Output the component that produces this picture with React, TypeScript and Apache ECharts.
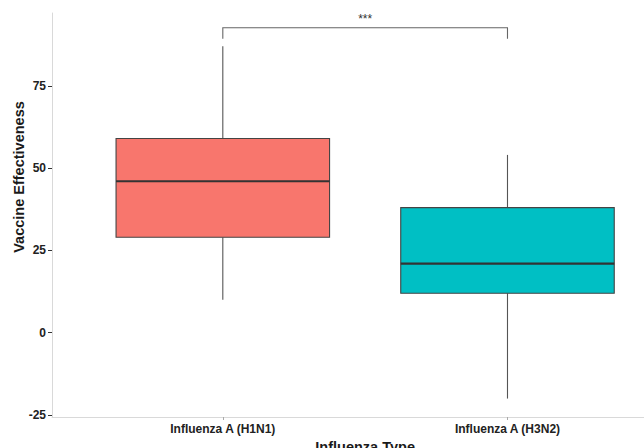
import React, { useEffect, useRef } from "react";
import * as echarts from "echarts";

// ---- data ----
const categories = ["Influenza A (H1N1)", "Influenza A (H3N2)"];
const mins = [10, -20];
const q1s = [29, 12];
const medians = [46, 21];
const q3s = [59, 38];
const maxs = [87, 54];

const yTicks = [-25, 0, 25, 50, 75];
const xTicks = [1, 2];

// significance bracket
const bracketFrom = 1;
const bracketTo = 2;
const bracketY = 92.6;
const bracketTipY = 89.3;
const bracketLabel = "***";
const bracketLabelY = 95.3;

// ---- styles ----
const boxColors = ["#F8766D", "#00BFC4"];
const BOX_WIDTH_UNITS = 0.75;
const FONT = "'Liberation Sans', Arial, Helvetica, sans-serif";

export default function App() {
  const ref = useRef<HTMLDivElement>(null);

  useEffect(() => {
    if (!ref.current) return;
    const chart = echarts.init(ref.current, null, { renderer: "svg" });

    const boxData = categories.map((_, i) => [
      i + 1,
      mins[i],
      q1s[i],
      medians[i],
      q3s[i],
      maxs[i],
    ]);

    const option: any = {
      animation: false,
      backgroundColor: "#ffffff",
      textStyle: { fontFamily: FONT },
      grid: {
        left: 52,
        right: -34.3,
        top: 13,
        bottom: 31,
        containLabel: false,
        outerBoundsMode: "none",
      },
      xAxis: {
        type: "value",
        min: 0.4,
        max: 2.6,
        name: "Influenza Type",
        nameLocation: "middle",
        nameGap: 17,
        nameTextStyle: { fontSize: 14.5, fontWeight: "bold", color: "#1a1a1a", fontFamily: FONT },
        axisLine: { show: true, onZero: false, lineStyle: { color: "#d9d9d9", width: 1 } },
        axisTick: { show: true, customValues: xTicks, length: 3, lineStyle: { color: "#aaaaaa" } },
        axisLabel: {
          customValues: xTicks,
          formatter: (v: number) => categories[Math.round(v) - 1] ?? "",
          fontSize: 12,
          fontWeight: "bold",
          color: "#222",
          margin: 6,
          fontFamily: FONT,
        },
        splitLine: { show: false },
      },
      yAxis: {
        type: "value",
        min: -25.6,
        max: 97.1,
        axisLine: { show: true, onZero: false, lineStyle: { color: "#d9d9d9", width: 1 } },
        axisTick: { show: true, customValues: yTicks, length: 4, lineStyle: { color: "#333" } },
        axisLabel: {
          customValues: yTicks,
          fontSize: 12,
          fontWeight: "bold",
          color: "#222",
          margin: 6,
          fontFamily: FONT,
        },
        splitLine: { show: false },
      },
      graphic: [
        {
          type: "text",
          x: 19,
          y: 177,
          rotation: Math.PI / 2,
          style: {
            text: "Vaccine Effectiveness",
            fontSize: 14.5,
            fontWeight: "bold",
            fill: "#1a1a1a",
            fontFamily: FONT,
            align: "center",
            verticalAlign: "middle",
          },
        },
      ],
      series: [
        {
          type: "custom",
          coordinateSystem: "cartesian2d",
          data: boxData,
          encode: { x: 0, y: [1, 2, 3, 4, 5] },
          renderItem: (params: any, api: any) => {
            const x = api.value(0);
            const lo = api.coord([x, api.value(1)]);
            const q1 = api.coord([x, api.value(2)]);
            const md = api.coord([x, api.value(3)]);
            const q3 = api.coord([x, api.value(4)]);
            const hi = api.coord([x, api.value(5)]);
            const half = api.size([BOX_WIDTH_UNITS / 2, 0])[0];
            const color = boxColors[params.dataIndex % boxColors.length];
            return {
              type: "group",
              children: [
                {
                  type: "line",
                  shape: { x1: hi[0], y1: hi[1], x2: q3[0], y2: q3[1] },
                  style: { stroke: "#555", lineWidth: 1.1 },
                },
                {
                  type: "line",
                  shape: { x1: q1[0], y1: q1[1], x2: lo[0], y2: lo[1] },
                  style: { stroke: "#555", lineWidth: 1.1 },
                },
                {
                  type: "rect",
                  shape: { x: q3[0] - half, y: q3[1], width: half * 2, height: q1[1] - q3[1] },
                  style: { fill: color, stroke: "#444", lineWidth: 1.1 },
                },
                {
                  type: "line",
                  shape: { x1: md[0] - half, y1: md[1], x2: md[0] + half, y2: md[1] },
                  style: { stroke: "#333", lineWidth: 2.2 },
                },
              ],
            };
          },
        },
        {
          type: "custom",
          coordinateSystem: "cartesian2d",
          data: [[bracketFrom, bracketTo, bracketY, bracketTipY, bracketLabelY]],
          encode: { x: [0, 1], y: [2, 3, 4] },
          renderItem: (_params: any, api: any) => {
            const x1 = api.value(0);
            const x2 = api.value(1);
            const y = api.value(2);
            const tip = api.value(3);
            const ly = api.value(4);
            const a = api.coord([x1, tip]);
            const b = api.coord([x1, y]);
            const c = api.coord([x2, y]);
            const d = api.coord([x2, tip]);
            const t = api.coord([(x1 + x2) / 2, ly]);
            return {
              type: "group",
              children: [
                {
                  type: "polyline",
                  shape: { points: [a, b, c, d] },
                  style: { stroke: "#666", lineWidth: 1.1, fill: "none" },
                },
                {
                  type: "text",
                  x: t[0],
                  y: t[1],
                  style: {
                    text: bracketLabel,
                    fontSize: 12,
                    fill: "#333",
                    fontFamily: FONT,
                    align: "center",
                    verticalAlign: "middle",
                  },
                },
              ],
            };
          },
        },
      ],
    };

    chart.setOption(option);
    return () => {
      chart.dispose();
    };
  }, []);

  return (
    <div
      ref={ref}
      style={{ position: "fixed", left: 0, top: 0, width: 644, height: 448, background: "#fff" }}
    />
  );
}
